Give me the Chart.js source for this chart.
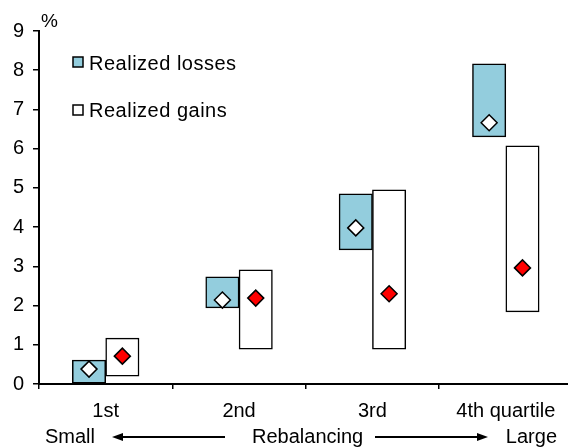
<!DOCTYPE html>
<html>
<head>
<meta charset="utf-8">
<script src="https://cdn.jsdelivr.net/npm/chart.js@4/dist/chart.umd.min.js"></script>
<style>
  html, body { margin: 0; padding: 0; background: #fff; overflow: hidden; }
  #wrap { width: 582px; height: 448px; }
</style>
</head>
<body>
<div id="wrap"><canvas id="chart"></canvas></div>
<script>
// Data
const QUARTILES = ['1st', '2nd', '3rd', '4th quartile'];
const LOSS_LOW  = [0, 1.94, 3.42, 6.30];
const LOSS_HIGH = [0.61, 2.73, 4.85, 8.16];
const LOSS_MID  = [0.38, 2.14, 3.98, 6.66];
const GAIN_LOW  = [0.20, 0.89, 0.89, 1.84];
const GAIN_HIGH = [1.17, 2.91, 4.95, 6.07];
const GAIN_MID  = [0.71, 2.19, 2.30, 2.96];
const Y_TICKS = [0, 1, 2, 3, 4, 5, 6, 7, 8, 9];

const FONT = '"Liberation Sans", Arial, sans-serif';
const LOSS_COLOR = '#93cddd';
const SHIFT = 0.125;   // losses left of the quartile centre, gains right

const extras = {
  id: 'extras',
  afterDraw(chart) {
    const ctx = chart.ctx;
    ctx.save();
    ctx.fillStyle = '#000';
    ctx.strokeStyle = '#000';
    ctx.textBaseline = 'alphabetic';

    // legend
    ctx.lineWidth = 1.5;
    ctx.fillStyle = LOSS_COLOR;
    ctx.fillRect(73, 57, 10, 10);
    ctx.strokeRect(73, 57, 10, 10);
    ctx.fillStyle = '#fff';
    ctx.fillRect(73, 105, 10, 10);
    ctx.strokeRect(73, 105, 10, 10);
    ctx.fillStyle = '#000';
    ctx.textAlign = 'left';
    ctx.font = '20px ' + FONT;
    ctx.letterSpacing = '0.5px';
    ctx.fillText('Realized losses', 89, 70);
    ctx.fillText('Realized gains', 89, 117);
    ctx.letterSpacing = '0px';

    ctx.font = '19px ' + FONT;
    ctx.fillText('%', 41, 27);

    // bottom caption with arrows
    ctx.font = '20px ' + FONT;
    ctx.fillText('Small', 45, 443);
    ctx.fillText('Rebalancing', 252, 443);
    ctx.textAlign = 'right';
    ctx.fillText('Large', 557, 443);
    ctx.lineWidth = 2;
    const ay = 437;
    ctx.beginPath(); ctx.moveTo(120, ay); ctx.lineTo(225, ay); ctx.stroke();
    ctx.beginPath(); ctx.moveTo(112, ay); ctx.lineTo(123, ay - 4); ctx.lineTo(123, ay + 4); ctx.closePath(); ctx.fill();
    ctx.beginPath(); ctx.moveTo(375, ay); ctx.lineTo(480, ay); ctx.stroke();
    ctx.beginPath(); ctx.moveTo(488, ay); ctx.lineTo(477, ay - 4); ctx.lineTo(477, ay + 4); ctx.closePath(); ctx.fill();
    ctx.restore();
  }
};

const pts = (vals, d) => vals.map((v, i) => ({ x: i + d, y: v }));
const bars = (lo, hi, d) => lo.map((v, i) => ({ x: i + d, y: [v, hi[i]] }));

new Chart(document.getElementById('chart'), {
  type: 'bar',
  data: {
    labels: QUARTILES,
    datasets: [
      {
        type: 'line', label: 'Loss median', order: 0, xAxisID: 'xd', showLine: false,
        data: pts(LOSS_MID, -SHIFT),
        pointStyle: 'rectRot', pointRadius: 8, pointHoverRadius: 8,
        pointBackgroundColor: '#fff', pointBorderColor: '#000', pointBorderWidth: 1.5
      },
      {
        type: 'line', label: 'Gain median', order: 0, xAxisID: 'xd', showLine: false,
        data: pts(GAIN_MID, SHIFT),
        pointStyle: 'rectRot', pointRadius: 8, pointHoverRadius: 8,
        pointBackgroundColor: '#ff0000', pointBorderColor: '#000', pointBorderWidth: 1.5
      },
      {
        label: 'Realized losses', order: 1, xAxisID: 'xd', grouped: false,
        data: bars(LOSS_LOW, LOSS_HIGH, -SHIFT),
        backgroundColor: LOSS_COLOR, borderColor: '#000', borderWidth: 1.5, borderSkipped: false,
        barPercentage: 1, categoryPercentage: 1
      },
      {
        label: 'Realized gains', order: 1, xAxisID: 'xd', grouped: false,
        data: bars(GAIN_LOW, GAIN_HIGH, SHIFT),
        backgroundColor: '#fff', borderColor: '#000', borderWidth: 1.5, borderSkipped: false,
        barPercentage: 1, categoryPercentage: 1
      }
    ]
  },
  options: {
    responsive: true, maintainAspectRatio: false, animation: false,
    layout: { padding: { top: 31, left: 0, right: 0, bottom: 0 } },
    plugins: { legend: { display: false }, tooltip: { enabled: false } },
    scales: {
      x: {
        type: 'category',
        grid: { display: true, drawOnChartArea: false, offset: true, tickLength: 5, color: '#000', lineWidth: 1.5 },
        border: { display: true, color: '#000', width: 2 },
        ticks: { color: '#000', font: { family: FONT, size: 20 }, padding: 10, maxRotation: 0, autoSkip: false },
        afterFit(s) { s.height = 64; s.paddingLeft = 0; s.paddingRight = 0; }
      },
      xd: { type: 'linear', display: false, offset: false, grid: { offset: false }, min: -0.5, max: 3.5 },
      y: {
        min: Y_TICKS[0], max: Y_TICKS[Y_TICKS.length - 1],
        afterBuildTicks(s) { s.ticks = Y_TICKS.map(v => ({ value: v })); },
        grid: { display: true, drawOnChartArea: false, tickLength: 6, color: '#000', lineWidth: 1.5 },
        border: { display: true, color: '#000', width: 2 },
        ticks: { color: '#000', font: { family: FONT, size: 20 }, padding: 9 },
        afterFit(s) { s.width = 39; }
      }
    }
  },
  plugins: [extras]
});
</script>
</body>
</html>
